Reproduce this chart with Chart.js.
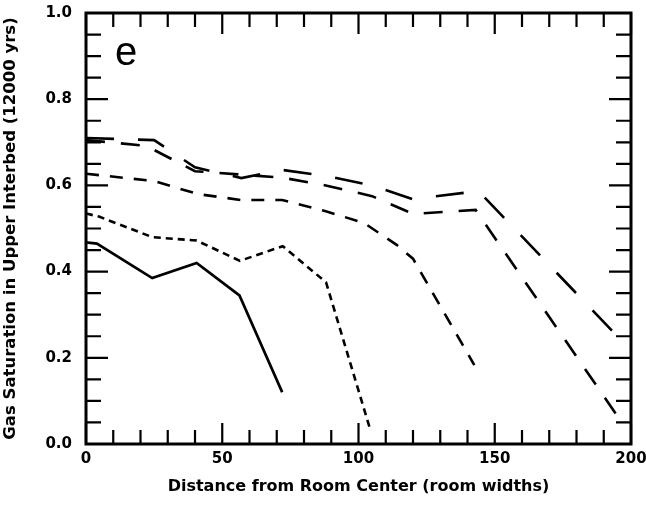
<!DOCTYPE html>
<html>
<head>
<meta charset="utf-8">
<script src="https://cdn.jsdelivr.net/npm/chart.js@4.4.1/dist/chart.umd.min.js"></script>
<style>
  body { margin: 0; background: #fff; }
  #wrap { width: 646px; height: 506px; }
</style>
</head>
<body>
<div id="wrap"><canvas id="satChart"></canvas></div>
<script>
// values (distance in room widths, gas saturation)
const solidX = [0, 4, 24.3, 40.6, 56.3, 72];
const solidY = [0.468, 0.465, 0.385, 0.42, 0.345, 0.12];

const shortX = [0, 5, 24.3, 40.6, 56.5, 72.2, 88.1, 104];
const shortY = [0.535, 0.527, 0.48, 0.472, 0.425, 0.459, 0.375, 0.04];

const medX = [0, 25, 41, 57, 72, 88, 102, 114, 120, 142.5];
const medY = [0.627, 0.61, 0.58, 0.566, 0.566, 0.54, 0.513, 0.462, 0.43, 0.183];

const longAX = [0, 25, 40, 57, 72, 88, 105, 120, 144, 195];
const longAY = [0.71, 0.705, 0.642, 0.617, 0.636, 0.622, 0.60, 0.568, 0.587, 0.25];

const longBX = [0, 22, 40, 57, 72, 88, 105, 120, 143, 195];
const longBY = [0.705, 0.692, 0.633, 0.625, 0.618, 0.60, 0.575, 0.534, 0.543, 0.065];

const xTicks = [0, 50, 100, 150, 200];
const yTicks = [0, 0.2, 0.4, 0.6, 0.8, 1.0];
const panelLabel = 'e';

function pts(xs, ys) {
    return xs.map((x, i) => ({ x: x, y: ys[i] }));
}

function line(xs, ys, dash, width) {
    return {
        data: pts(xs, ys),
        borderColor: '#000',
        borderWidth: width,
        borderDash: dash,
        pointRadius: 0,
        tension: 0,
        fill: false
    };
}

// frame + inward ticks on all four sides, plus the panel letter
const frameTicks = {
    id: 'frameTicks',
    afterDraw(chart) {
        const { ctx, chartArea: a, scales: { x, y } } = chart;
        ctx.save();
        ctx.strokeStyle = '#000';
        ctx.lineWidth = 2.2;
        ctx.beginPath();
        for (let v = 0; v <= 200; v += 10) {
            const px = x.getPixelForValue(v);
            const len = v % 50 === 0 ? 21 : 14;
            ctx.moveTo(px, a.bottom); ctx.lineTo(px, a.bottom - len);
            ctx.moveTo(px, a.top); ctx.lineTo(px, a.top + len);
        }
        for (let i = 0; i <= 20; i++) {
            const py = y.getPixelForValue(i * 0.05);
            const len = i % 4 === 0 ? 22 : 15;
            ctx.moveTo(a.left, py); ctx.lineTo(a.left + len, py);
            ctx.moveTo(a.right, py); ctx.lineTo(a.right - len, py);
        }
        ctx.stroke();
        ctx.lineWidth = 3;
        ctx.strokeRect(a.left, a.top, a.right - a.left, a.bottom - a.top);

        ctx.fillStyle = '#000';
        ctx.font = '40px "Liberation Sans", Arial, sans-serif';
        ctx.textBaseline = 'alphabetic';
        ctx.textAlign = 'left';
        ctx.fillText(panelLabel, a.left + 29, a.top + 52);
        ctx.restore();
    }
};

const tickFont = { family: '"DejaVu Sans", sans-serif', size: 15, weight: 'bold' };

new Chart(document.getElementById('satChart'), {
    type: 'line',
    data: {
        datasets: [
            line(solidX, solidY, [], 2.8),
            line(shortX, shortY, [7, 5], 2.6),
            line(medX, medY, [13, 11], 2.6),
            line(longAX, longAY, [28, 24], 2.6),
            line(longBX, longBY, [19, 16], 2.6)
        ]
    },
    options: {
        responsive: true,
        maintainAspectRatio: false,
        animation: false,
        layout: { padding: { top: 13, right: 15, left: 0, bottom: 0 } },
        plugins: { legend: { display: false }, tooltip: { enabled: false } },
        scales: {
            x: {
                type: 'linear',
                min: 0,
                max: 200,
                afterBuildTicks: s => { s.ticks = xTicks.map(v => ({ value: v })); },
                afterFit: s => { s.height = 62; s.paddingLeft = 0; s.paddingRight = 0; },
                grid: { display: false, drawTicks: false },
                border: { display: false },
                ticks: { color: '#000', font: tickFont, padding: 6, maxRotation: 0 },
                title: {
                    display: true,
                    text: 'Distance from Room Center (room widths)',
                    color: '#000',
                    font: { family: '"DejaVu Sans", sans-serif', size: 16, weight: 'bold' },
                    padding: { top: 0, bottom: 10 }
                }
            },
            y: {
                min: 0,
                max: 1,
                afterBuildTicks: s => { s.ticks = yTicks.map(v => ({ value: v })); },
                afterFit: s => { s.width = 86; s.paddingTop = 0; s.paddingBottom = 0; },
                grid: { display: false, drawTicks: false },
                border: { display: false },
                ticks: { color: '#000', font: tickFont, padding: 14, callback: v => v.toFixed(1) },
                title: {
                    display: true,
                    text: 'Gas Saturation in Upper Interbed (12000 yrs)',
                    color: '#000',
                    font: { family: '"DejaVu Sans", sans-serif', size: 16.5, weight: 'bold' },
                    padding: { top: 1, bottom: 0 }
                }
            }
        }
    },
    plugins: [frameTicks]
});
</script>
</body>
</html>
